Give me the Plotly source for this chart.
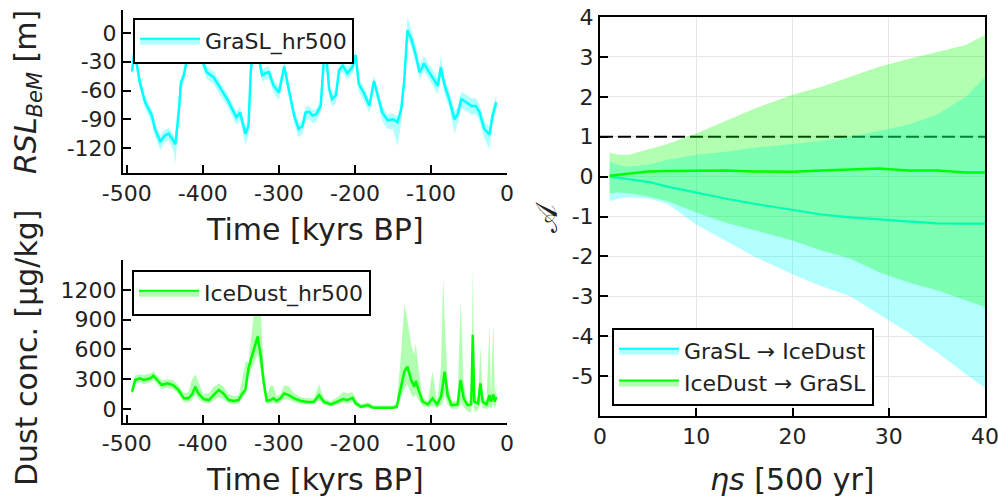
import plotly.graph_objects as go

# ---------------- data ----------------
# GraSL_hr500 (relative sea level, m)
t_sl = [-493, -490, -487, -483, -476, -467, -463, -456, -450, -445,
        -439, -436, -431, -429, -425, -421, -415, -408, -401, -395,
        -386, -377, -368, -359, -356, -351, -344, -340, -337, -334,
        -330, -326, -322, -318, -313, -307, -300, -293, -287, -280,
        -274, -269, -265, -260, -256, -251, -245, -241, -238, -234,
        -230, -225, -221, -216, -210, -203, -199, -195, -188, -181,
        -175, -170, -164, -157, -150, -144, -139, -135, -131, -126,
        -120, -115, -109, -104, -98, -91, -87, -82, -76, -69,
        -65, -60, -54, -47, -41, -36, -30, -23, -19, -14]
sl_mean = [-40, -18, -32, -51, -72, -86, -100, -113, -107, -105,
           -112, -116, -76, -53, -44, -28, -10, -8, -28, -41,
           -46, -58, -69, -83, -88, -83, -105, -97, -41, -15,
           -5, -28, -44, -42, -41, -55, -62, -35, -58, -86,
           -100, -97, -83, -82, -86, -85, -76, -30, -20, -58,
           -69, -65, -39, -34, -42, -35, -23, -53, -63, -76,
           -50, -65, -83, -91, -90, -93, -79, -48, 3, -6,
           -23, -41, -32, -39, -46, -55, -36, -55, -69, -90,
           -85, -69, -72, -76, -76, -83, -100, -106, -86, -72]
sl_err_lo = [6, 6, 6, 7, 7, 8, 8, 9, 7, 7,
             10, 20, 12, 8, 6, 6, 6, 6, 6, 7,
             7, 7, 7, 8, 8, 8, 12, 10, 6, 6,
             6, 6, 7, 7, 7, 7, 8, 8, 8, 8,
             9, 8, 8, 8, 8, 8, 7, 6, 6, 8,
             8, 8, 7, 7, 7, 7, 6, 8, 8, 8,
             8, 8, 9, 9, 10, 25, 15, 8, 8, 8,
             8, 8, 8, 8, 8, 9, 8, 9, 9, 15,
             10, 9, 9, 9, 9, 9, 10, 15, 9, 8]
sl_err_hi = [6, 6, 6, 6, 6, 6, 6, 6, 6, 6,
             6, 6, 6, 6, 6, 6, 6, 6, 6, 6,
             6, 6, 6, 6, 6, 6, 6, 6, 6, 6,
             6, 6, 6, 6, 6, 6, 6, 6, 6, 6,
             6, 6, 6, 6, 6, 6, 6, 6, 6, 6,
             6, 6, 6, 6, 6, 6, 6, 6, 6, 6,
             6, 6, 6, 6, 6, 6, 6, 8, 14, 10,
             10, 8, 8, 8, 8, 8, 12, 8, 8, 8,
             8, 8, 8, 8, 8, 8, 8, 8, 8, 8]

# IceDust_hr500 (dust concentration, ug/kg)
t_dust = [-493, -489, -483, -478, -469, -465, -460, -454, -447, -439,
          -432, -425, -419, -414, -410, -406, -399, -392, -386, -379,
          -373, -366, -359, -353, -348, -344, -340, -333, -328, -324,
          -320, -316, -311, -307, -303, -298, -293, -287, -280, -271,
          -262, -254, -247, -241, -232, -223, -216, -210, -203, -199,
          -192, -183, -177, -170, -161, -150, -145, -140, -135, -131,
          -126, -122, -120, -117, -111, -104, -98, -92, -87, -84,
          -82, -78, -73, -65, -61, -57, -52, -47, -45, -43,
          -38, -35, -32, -27, -23, -21, -18, -16, -14]
dust_mean = [175, 293, 310, 293, 310, 336, 293, 242, 259, 242,
             192, 108, 108, 150, 225, 158, 101, 91, 141, 192,
             158, 91, 81, 91, 158, 192, 411, 596, 730, 545,
             276, 81, 91, 108, 81, 108, 158, 141, 108, 81,
             71, 74, 141, 74, 47, 74, 101, 91, 114, 57,
             23, 40, 17, 14, 14, 14, 23, 209, 377, 427,
             293, 225, 283, 209, 74, 47, 108, 47, 120, 260,
             377, 141, 40, 47, 293, 108, 40, 47, 747, 74,
             57, 259, 74, 47, 141, 74, 148, 74, 124]
dust_hi = [230, 340, 350, 340, 360, 380, 340, 290, 300, 290,
           240, 160, 170, 300, 350, 280, 150, 160, 220, 260,
           230, 150, 130, 140, 300, 470, 480, 950, 1100, 1000,
           400, 130, 240, 230, 130, 150, 240, 230, 160, 120,
           110, 110, 250, 110, 80, 120, 170, 160, 170, 100,
           50, 70, 40, 35, 35, 35, 60, 500, 1050, 900,
           650, 550, 660, 450, 120, 80, 380, 80, 400, 1330,
           900, 250, 80, 80, 1100, 250, 80, 100, 1450, 150,
           100, 640, 130, 90, 830, 150, 870, 150, 250]
dust_lo = [130, 250, 270, 250, 270, 290, 250, 200, 215, 200,
           150, 70, 70, 90, 150, 100, 65, 55, 90, 120,
           100, 55, 45, 55, 110, 150, 330, 450, 560, 400,
           180, 50, 55, 60, 50, 70, 100, 95, 70, 50,
           45, 45, 90, 45, 25, 45, 60, 55, 70, 30,
           5, 15, 0, 0, 0, 0, 5, 100, 200, 250,
           150, 120, 150, 100, 30, 15, 30, 10, 40, 60,
           150, 40, 5, 0, 60, 20, -20, -40, 300, -30,
           -10, 80, 10, 0, 20, 10, 40, 10, 60]

# Right panel: asymmetry vs eta*s
eta = [1, 2, 3, 5, 7, 10, 13, 16, 20, 23, 26, 29, 32, 35, 38, 40]
g2d_mean = [0.0, -0.03, -0.06, -0.13, -0.25, -0.4, -0.55, -0.68, -0.83, -0.95, -1.02, -1.07, -1.13, -1.17, -1.18, -1.18]
g2d_lo = [-0.62, -0.55, -0.52, -0.55, -0.68, -1.2, -1.6, -2.0, -2.45, -2.75, -3.0, -3.45, -3.9, -4.4, -4.95, -5.3]
g2d_hi = [0.38, 0.28, 0.25, 0.3, 0.42, 0.55, 0.62, 0.72, 0.82, 0.9, 1.0, 1.15, 1.3, 1.55, 2.0, 2.5]
d2g_mean = [0.02, 0.05, 0.08, 0.13, 0.14, 0.15, 0.15, 0.13, 0.12, 0.15, 0.18, 0.2, 0.15, 0.15, 0.1, 0.1]
d2g_lo = [-0.42, -0.4, -0.42, -0.5, -0.62, -0.9, -1.15, -1.35, -1.6, -1.85, -2.05, -2.4, -2.65, -2.85, -3.1, -3.27]
d2g_hi = [0.6, 0.55, 0.55, 0.68, 0.82, 1.08, 1.4, 1.7, 2.05, 2.25, 2.5, 2.75, 2.95, 3.12, 3.3, 3.55]
threshold = 1.0

# ticks
time_ticks = [-500, -400, -300, -200, -100, 0]
time_ticklabels = ["-500", "-400", "-300", "-200", "-100", "0"]
sl_ticks = [-120, -90, -60, -30, 0]
sl_ticklabels = ["-120", "-90", "-60", "-30", "0"]
dust_ticks = [0, 300, 600, 900, 1200]
dust_ticklabels = ["0", "300", "600", "900", "1200"]
eta_ticks = [0, 10, 20, 30, 40]
eta_ticklabels = ["0", "10", "20", "30", "40"]
a_ticks = [-5, -4, -3, -2, -1, 0, 1, 2, 3, 4]
a_ticklabels = ["-5", "-4", "-3", "-2", "-1", "0", "1", "2", "3", "4"]

# ---------------- styling ----------------
FONT = "DejaVu Sans"
TXT = "#222222"
CYAN = "#00FFFF"
GREEN = "#00FF00"
CYAN_F = "rgba(0,255,255,0.3)"
GREEN_F = "rgba(0,255,0,0.3)"

W, H = 998, 499


def px_x(p):
    return p / W


def px_y(p):
    return 1 - p / H


fig = go.Figure()


def band(x, lo, hi, fillcolor, xa, ya):
    fig.add_trace(go.Scatter(
        x=list(x) + list(x)[::-1], y=list(hi) + list(lo)[::-1],
        fill="toself", fillcolor=fillcolor, mode="lines",
        line=dict(width=0, color=fillcolor), hoverinfo="skip",
        showlegend=False, xaxis=xa, yaxis=ya))


def legend_dummy(name, color, fillcolor, xa, ya, lg):
    fig.add_trace(go.Scatter(
        x=[None], y=[None], mode="lines", fill="toself", fillcolor=fillcolor,
        line=dict(color=color, width=2), name=name, showlegend=True,
        legend=lg, xaxis=xa, yaxis=ya))


# top-left: sea level
sl_lo = [m - e for m, e in zip(sl_mean, sl_err_lo)]
sl_hi = [m + e for m, e in zip(sl_mean, sl_err_hi)]
band(t_sl, sl_lo, sl_hi, CYAN_F, "x", "y")
fig.add_trace(go.Scatter(x=t_sl, y=sl_mean, mode="lines",
                         line=dict(color=CYAN, width=2.5), showlegend=False,
                         xaxis="x", yaxis="y"))
legend_dummy("GraSL_hr500", CYAN, CYAN_F, "x", "y", "legend")

# bottom-left: dust
band(t_dust, dust_lo, dust_hi, GREEN_F, "x2", "y2")
fig.add_trace(go.Scatter(x=t_dust, y=dust_mean, mode="lines",
                         line=dict(color=GREEN, width=2.5), showlegend=False,
                         xaxis="x2", yaxis="y2"))
legend_dummy("IceDust_hr500", GREEN, GREEN_F, "x2", "y2", "legend2")

# right panel
fig.add_trace(go.Scatter(x=[0, 40], y=[threshold, threshold], mode="lines",
                         line=dict(color="black", width=2, dash="13px,5px"),
                         showlegend=False, hoverinfo="skip",
                         xaxis="x3", yaxis="y3"))
band(eta, g2d_lo, g2d_hi, CYAN_F, "x3", "y3")
fig.add_trace(go.Scatter(x=eta, y=g2d_mean, mode="lines",
                         line=dict(color=CYAN, width=2.2), showlegend=False,
                         xaxis="x3", yaxis="y3"))
band(eta, d2g_lo, d2g_hi, GREEN_F, "x3", "y3")
fig.add_trace(go.Scatter(x=eta, y=d2g_mean, mode="lines",
                         line=dict(color=GREEN, width=2.5), showlegend=False,
                         xaxis="x3", yaxis="y3"))
legend_dummy("GraSL → IceDust", CYAN, CYAN_F, "x3", "y3", "legend3")
legend_dummy("IceDust → GraSL", GREEN, GREEN_F, "x3", "y3", "legend3")

tickfont = dict(family=FONT, size=22, color=TXT)
common = dict(showline=True, linecolor="black", linewidth=2, ticks="inside",
              ticklen=8, tickwidth=1.5, tickcolor="black", tickfont=tickfont,
              showgrid=False, zeroline=False, tickmode="array", automargin=False,
              ticklabeloverflow="allow")

left_dom = [px_x(123), px_x(507)]
legfont = dict(family=FONT, size=22, color=TXT)
legbase = dict(xanchor="left", yanchor="top", bgcolor="white", bordercolor="black",
               borderwidth=2, font=legfont, itemwidth=60)
fig.update_layout(
    width=W, height=H, margin=dict(l=0, r=0, t=0, b=0, autoexpand=False),
    paper_bgcolor="white", plot_bgcolor="white",
    font=dict(family=FONT, color=TXT),
    xaxis=dict(common, domain=left_dom, anchor="y", range=[-505, 0],
               tickvals=time_ticks, ticktext=time_ticklabels),
    yaxis=dict(common, domain=[px_y(173), px_y(10)], anchor="x", range=[-146, 24],
               tickvals=sl_ticks, ticktext=sl_ticklabels),
    xaxis2=dict(common, domain=left_dom, anchor="y2", range=[-505, 0],
                tickvals=time_ticks, ticktext=time_ticklabels),
    yaxis2=dict(common, domain=[px_y(423), px_y(260)], anchor="x2", range=[-140, 1500],
                tickvals=dust_ticks, ticktext=dust_ticklabels),
    xaxis3=dict(common, domain=[px_x(600), px_x(985)], anchor="y3", range=[0, 40],
                tickvals=eta_ticks, ticktext=eta_ticklabels, mirror=True,
                showgrid=True, gridcolor="#e6e6e6", gridwidth=1),
    yaxis3=dict(common, domain=[px_y(416), px_y(17)], anchor="x3", range=[-6, 4],
                tickvals=a_ticks, ticktext=a_ticklabels, mirror=True,
                showgrid=True, gridcolor="#e6e6e6", gridwidth=1),
    legend=dict(legbase, x=px_x(133), y=px_y(18)),
    legend2=dict(legbase, x=px_x(132), y=px_y(270)),
    legend3=dict(legbase, x=px_x(612), y=px_y(328)),
)

title_font = dict(family=FONT, size=30, color=TXT)
ann = [
    dict(text="<i>RSL</i><sub><i>BeM</i></sub> [m]", x=px_x(28), y=px_y(92), textangle=-90),
    dict(text="Time [kyrs BP]", x=px_x(315), y=px_y(229), textangle=0),
    dict(text="Dust conc. [μg/kg]", x=px_x(26), y=px_y(348), textangle=-90),
    dict(text="Time [kyrs BP]", x=px_x(315), y=px_y(479), textangle=0),
    dict(text="<i>η</i><i>s</i> [500 yr]", x=px_x(792), y=px_y(479), textangle=0),
    dict(text="𝒜", x=px_x(546), y=px_y(217), textangle=-90),
]
for a in ann:
    fig.add_annotation(xref="paper", yref="paper", showarrow=False,
                       xanchor="center", yanchor="middle", font=title_font, **a)

# remove the default page margin so the 998x499 figure fills the window exactly
fig.write_html("out.html", config={"displayModeBar": False},
               post_script="document.body.style.margin='0';document.body.style.overflow='hidden';")
